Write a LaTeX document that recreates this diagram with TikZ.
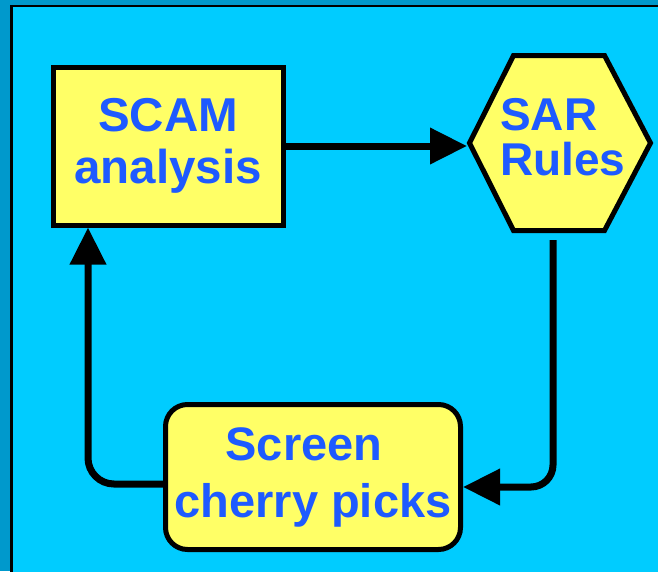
\documentclass[tikz,border=0pt]{standalone}
\usepackage{fontspec}
\setmainfont{Liberation Sans}
\usetikzlibrary{arrows.meta,calc}

\definecolor{frameblue}{HTML}{0099CC}
\definecolor{panelcyan}{HTML}{00CCFF}
\definecolor{boxyellow}{HTML}{FFFF66}
\definecolor{labelblue}{HTML}{1E5AFF}

\tikzset{
  boxlabel/.style={font=\bfseries\fontsize{47.5}{52}\selectfont, text=labelblue, align=center},
  stepbox/.style={draw=black, line width=5pt, fill=boxyellow, boxlabel, inner sep=0pt},
  conn/.style={draw=black, line width=7pt, -{Triangle[length=37pt,width=35pt]}},
}

\begin{document}
\begin{tikzpicture}[x=1pt,y=-1pt]
  \useasboundingbox (0,0) rectangle (658,571);

  % backdrop and framed panel
  \fill[frameblue] (0,0) rectangle (658,571);
  \fill[panelcyan] (11.5,6) rectangle (660,573);
  \draw[black, line width=2.5pt] (11.5,573) -- (11.5,6) -- (660,6);

  % SCAM analysis box
  \node[stepbox, minimum width=230pt, minimum height=158pt] (scam) at (168,146)
    {SCAM\\analysis};

  % SAR Rules hexagon
  \draw[black, line width=5pt, fill=boxyellow, line join=miter]
    (513.5,55.5) -- (604.5,55.5) -- (650.5,143) -- (604.5,230.5) -- (513.5,230.5) -- (469.5,143) -- cycle;
  \coordinate (sarW) at (467,143);
  \coordinate (sarS) at (553,240);
  \node[boxlabel, font=\bfseries\fontsize{46}{45}\selectfont, align=left, inner sep=0pt,
        anchor=west] (sar) at (500,137.5) {SAR\\Rules};

  % Screen cherry picks box
  \node[stepbox, rounded corners=22pt, minimum width=295pt, minimum height=145pt,
        font=\bfseries\fontsize{47}{57}\selectfont] (screen) at (313,477)
    {Screen\kern18pt\\cherry picks};

  % connectors
  \draw[conn] (scam.east) -- (scam.east -| sarW);
  \draw[conn, rounded corners=22pt] (sarS) |- ([yshift=-10pt]screen.east);
  \draw[conn, rounded corners=26pt] ([yshift=-7pt]screen.west) -| ([xshift=-80pt]scam.south);
\end{tikzpicture}
\end{document}
